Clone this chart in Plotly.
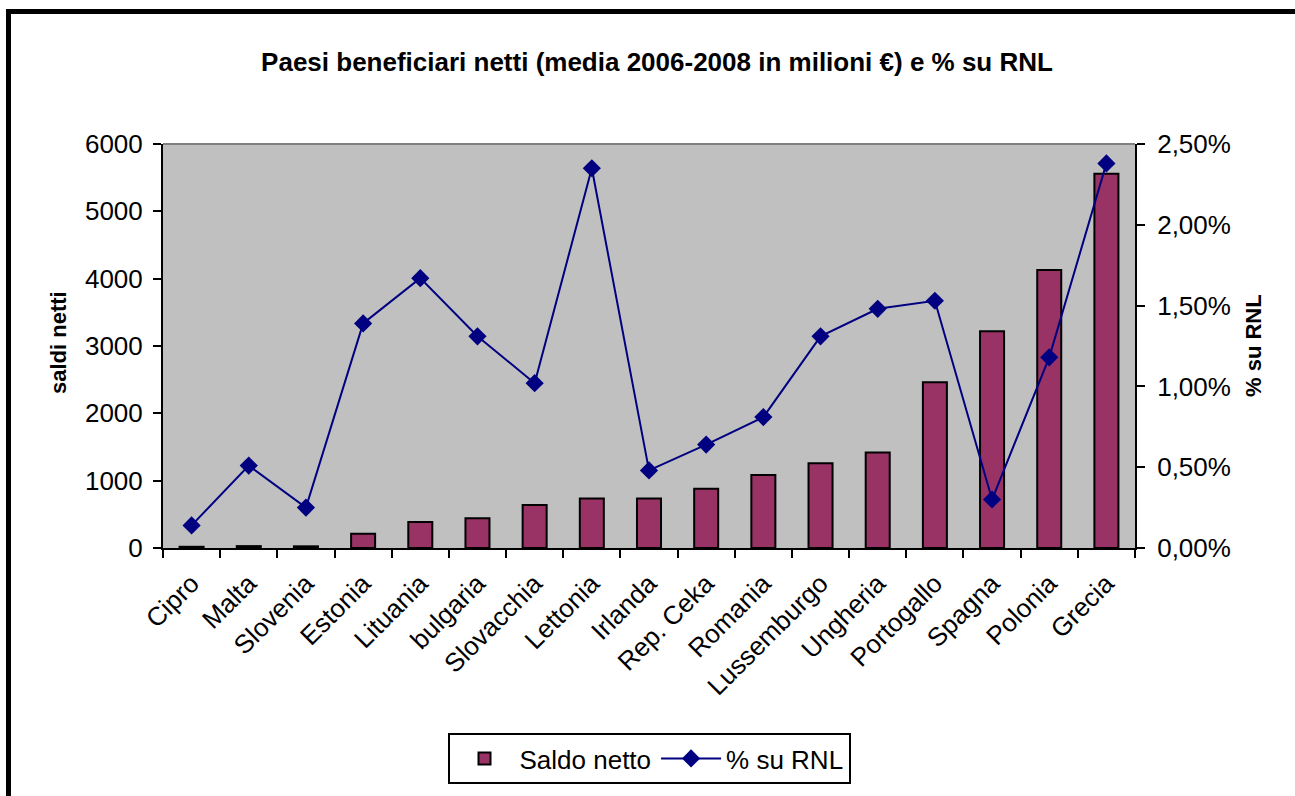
import plotly.graph_objects as go

# Paesi beneficiari netti: saldo netto medio 2006-2008 (milioni di euro) e quota sul RNL
paesi = ["Cipro", "Malta", "Slovenia", "Estonia", "Lituania", "bulgaria",
         "Slovacchia", "Lettonia", "Irlanda", "Rep. Ceka", "Romania",
         "Lussemburgo", "Ungheria", "Portogallo", "Spagna", "Polonia", "Grecia"]
saldo_netto = [18, 28, 25, 210, 385, 440, 640, 735, 735, 880, 1085,
               1260, 1420, 2460, 3220, 4130, 5560]
pct_rnl = [0.0014, 0.0051, 0.0025, 0.0139, 0.0167, 0.0131, 0.0102, 0.0235,
           0.0048, 0.0064, 0.0081, 0.0131, 0.0148, 0.0153, 0.0030, 0.0118, 0.0238]

W, H = 1295, 796
L, R, T, B = 163, 1135, 144, 548   # plot area edges in pixels


def px(x):
    return (x - L) / (R - L)


def py(y):
    return (B - y) / (B - T)


FONT = "Liberation Sans, Arial, sans-serif"
TICK_SIZE = 26

fig = go.Figure()
fig.add_trace(go.Bar(
    x=paesi, y=saldo_netto, name="Saldo netto",
    marker=dict(color="#993366", line=dict(color="black", width=2)),
    width=0.42,
))
fig.add_trace(go.Scatter(
    x=paesi, y=pct_rnl, name="% su RNL", yaxis="y2",
    mode="lines+markers",
    line=dict(color="#000080", width=2),
    marker=dict(symbol="diamond", size=14, color="#000080"),
))

tick_style = dict(ticklen=8, tickwidth=2, tickcolor="black",
                  showgrid=False, zeroline=False)

fig.update_layout(
    width=W, height=H,
    margin=dict(l=L, r=W - R, t=T, b=H - B),
    paper_bgcolor="white",
    plot_bgcolor="#C0C0C0",
    separators=",.",
    font=dict(family=FONT, size=TICK_SIZE, color="black"),
    title=dict(
        text="<b>Paesi beneficiari netti (media 2006-2008 in milioni €) e % su RNL</b>",
        x=657 / W, xanchor="center", xref="container",
        y=1 - 62 / H, yanchor="middle", yref="container",
        font=dict(family=FONT, size=26, color="black"),
    ),
    showlegend=True,
    legend=dict(
        orientation="h",
        x=px(649), xanchor="center", xref="paper",
        y=py(733), yanchor="top", yref="paper",
        bgcolor="white", bordercolor="black", borderwidth=2,
        font=dict(family=FONT, size=TICK_SIZE, color="black"),
        itemwidth=60,
    ),
    xaxis=dict(
        type="category",
        range=[-0.5, len(paesi) - 0.5],
        tickangle=-45,
        ticks="outside", tickson="boundaries", ticklabelstandoff=8,
        showline=True, linecolor="black", linewidth=2,
        tickfont=dict(family=FONT, size=TICK_SIZE),
        **tick_style,
    ),
    yaxis=dict(
        range=[0, 6000], dtick=1000, tickformat="d",
        ticks="outside", ticklabelstandoff=5,
        showline=True, linecolor="black", linewidth=2,
        tickfont=dict(family=FONT, size=TICK_SIZE),
        **tick_style,
    ),
    yaxis2=dict(
        range=[0, 0.025], dtick=0.005, tickformat=".2%",
        overlaying="y", side="right",
        ticks="outside", ticklabelstandoff=7,
        showline=True, linecolor="black", linewidth=2,
        tickfont=dict(family=FONT, size=TICK_SIZE),
        **tick_style,
    ),
    # inner halves of the crossing tick marks on both value axes
    yaxis3=dict(
        range=[0, 6000], dtick=1000, overlaying="y", side="left",
        ticks="inside", showticklabels=False, showline=False,
        **tick_style,
    ),
    yaxis4=dict(
        range=[0, 0.025], dtick=0.005, overlaying="y", side="right",
        ticks="inside", showticklabels=False, showline=False,
        **tick_style,
    ),
    shapes=[
        # top edge of the plot area
        dict(type="line", xref="paper", yref="paper", x0=0, x1=1, y0=1, y1=1,
             line=dict(color="#808080", width=2)),
        # outer chart frame
        dict(type="rect", xref="paper", yref="paper",
             x0=px(8.5), x1=px(1302), y0=py(11.5), y1=py(803),
             line=dict(color="black", width=5), layer="above"),
    ],
    annotations=[
        dict(text="<b>saldi netti</b>", textangle=-90, showarrow=False,
             xref="paper", yref="paper", x=px(58), y=py(343),
             xanchor="center", yanchor="middle",
             font=dict(family=FONT, size=22, color="black")),
        dict(text="<b>% su RNL</b>", textangle=-90, showarrow=False,
             xref="paper", yref="paper", x=px(1253), y=py(346),
             xanchor="center", yanchor="middle",
             font=dict(family=FONT, size=22, color="black")),
    ],
)

fig.write_html("out.html")
